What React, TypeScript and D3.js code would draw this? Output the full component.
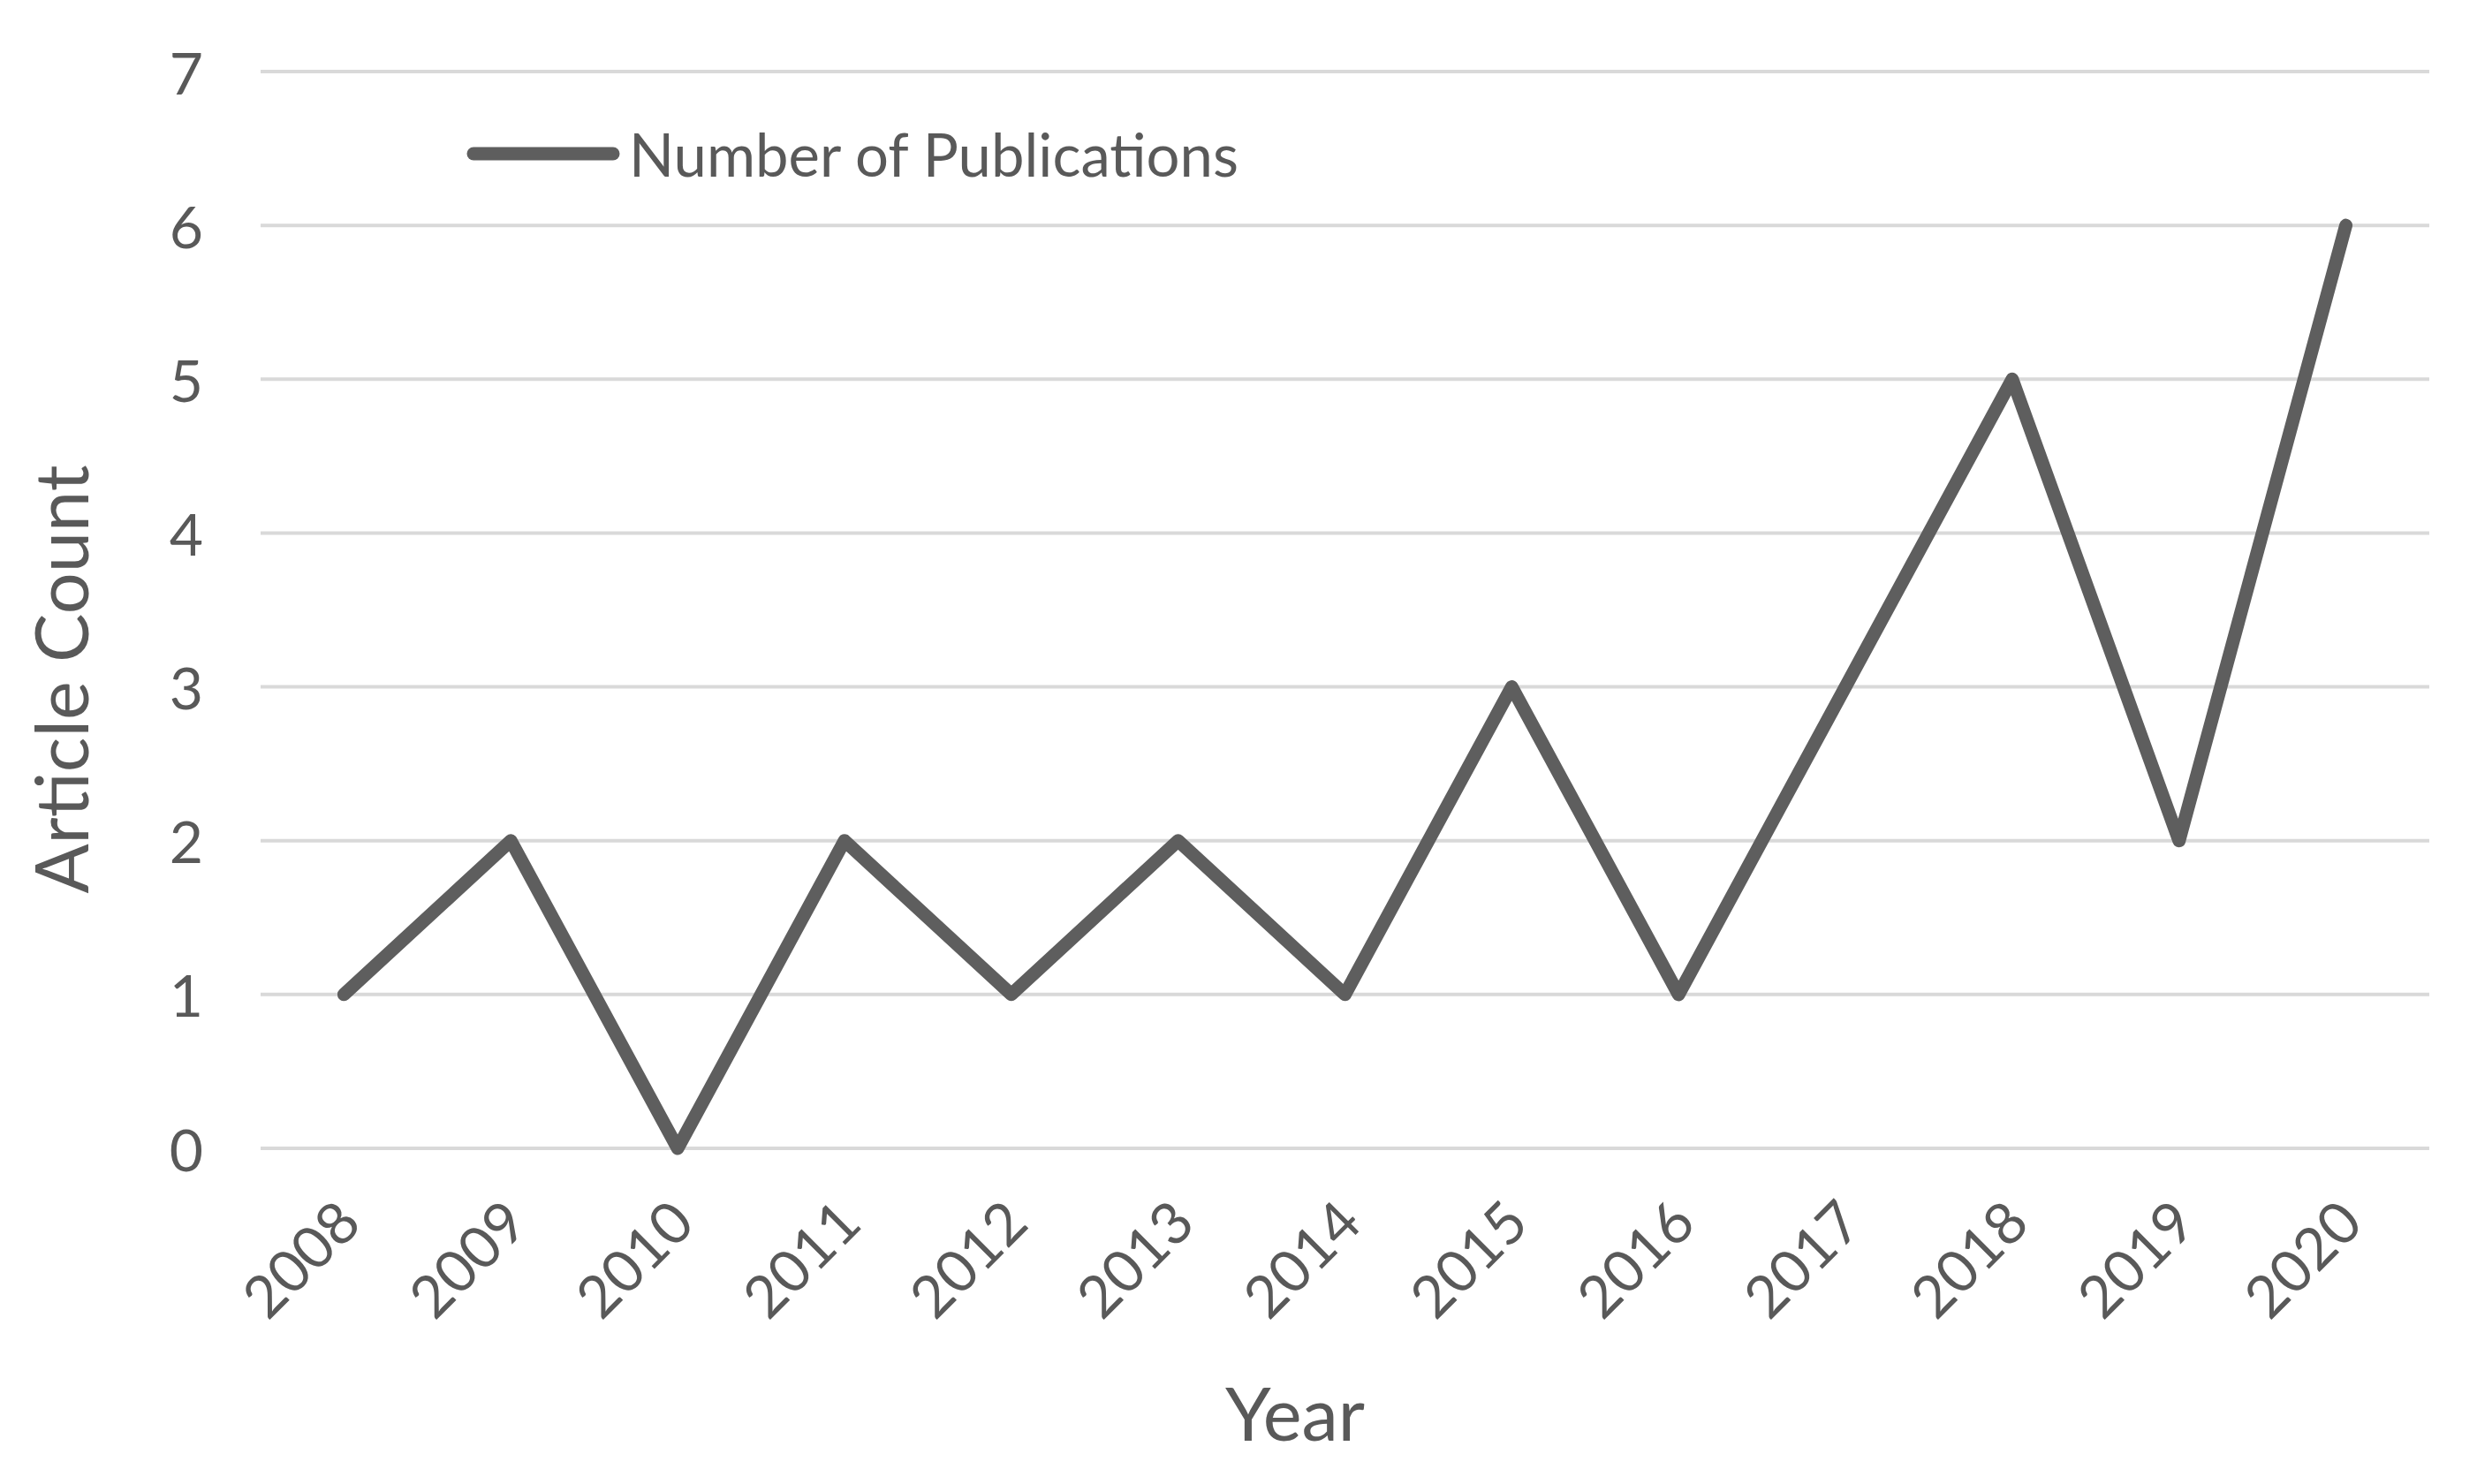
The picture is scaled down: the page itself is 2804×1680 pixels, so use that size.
import React from "react";
import * as d3 from "d3";

const years = ["2008","2009","2010","2011","2012","2013","2014","2015","2016","2017","2018","2019","2020"];
const counts = [1, 2, 0, 2, 1, 2, 1, 3, 1, 3, 5, 2, 6];
const yTicks = [0, 1, 2, 3, 4, 5, 6, 7];
const seriesName = "Number of Publications";
const xTitle = "Year";
const yTitle = "Article Count";

const W = 2804, H = 1680;
const plotLeft = 295, plotRight = 2750, plotTop = 81, plotBottom = 1300;
const FONT = "Lato, 'Open Sans', sans-serif";
const TEXT = "#595959";

export default function App() {
  const x = d3.scaleBand<string>().domain(years).range([plotLeft, plotRight]);
  const y = d3.scaleLinear().domain([0, 7]).range([plotBottom, plotTop]);
  const cx = (yr: string) => (x(yr) as number) + x.bandwidth() / 2;
  const line = d3.line<number>().x((_, i) => cx(years[i])).y((d) => y(d));
  return (
    <svg width={W} height={H} style={{ position: "absolute", left: 0, top: 0, background: "#fff" }} fontFamily={FONT}>
      <rect x={0} y={0} width={W} height={H} fill="#fff" />
      {yTicks.map((t) => (
        <g key={t}>
          <line x1={plotLeft} x2={plotRight} y1={y(t)} y2={y(t)} stroke="#d9d9d9" strokeWidth={4} />
          <text x={230} y={y(t)} textAnchor="end" dominantBaseline="central" fontSize={66} fill={TEXT}>{t}</text>
        </g>
      ))}
      {years.map((yr) => (
        <text key={yr} transform={`translate(${cx(yr) + 4},${plotBottom + 70}) rotate(-45)`} textAnchor="end" dominantBaseline="central" fontSize={66} fill={TEXT}>{yr}</text>
      ))}
      <path d={line(counts) || ""} fill="none" stroke="#5e5e5e" strokeWidth={15} strokeLinejoin="round" strokeLinecap="round" />
      <line x1={536} x2={694} y1={174} y2={174} stroke="#5e5e5e" strokeWidth={15} strokeLinecap="round" />
      <text x={712} y={174} dominantBaseline="central" fontSize={67} fill={TEXT}>{seriesName}</text>
      <text x={1466} y={1631} textAnchor="middle" fontSize={83} fill={TEXT}>{xTitle}</text>
      <text transform={`translate(100,769) rotate(-90)`} textAnchor="middle" fontSize={83} fill={TEXT}>{yTitle}</text>
    </svg>
  );
}
